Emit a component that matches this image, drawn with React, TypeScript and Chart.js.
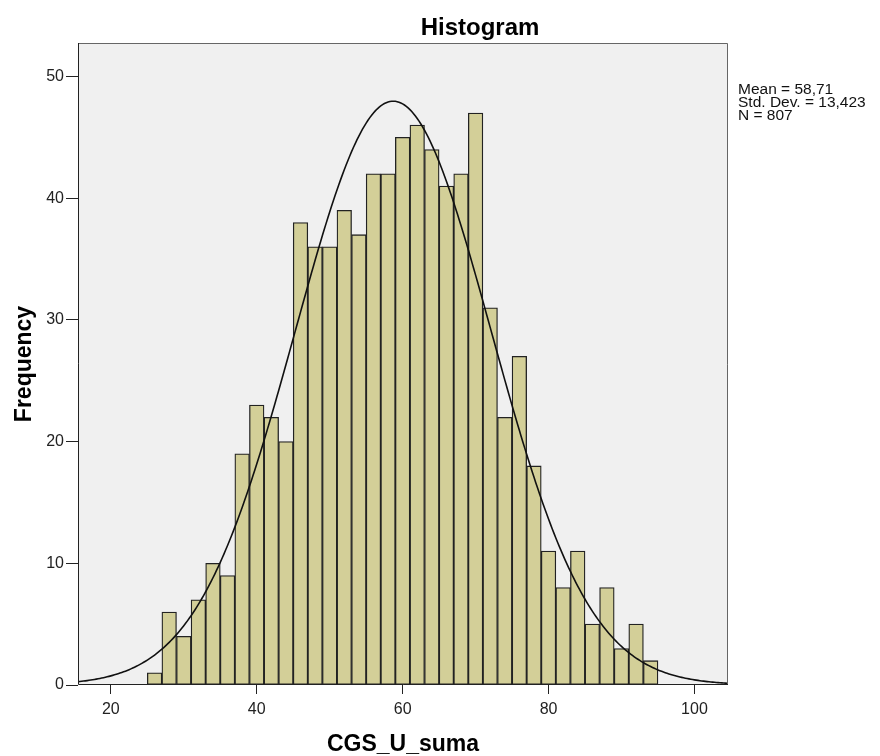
import React, { useEffect, useRef } from "react";
import { Chart, registerables } from "chart.js";

Chart.register(...registerables);

// Histogram bins (bin width 2, centres)
const binCenters = [26, 28, 30, 32, 34, 36, 38, 40, 42, 44, 46, 48, 50, 52, 54, 56, 58, 60, 62, 64, 66, 68, 70, 72, 74, 76, 78, 80, 82, 84, 86, 88, 90, 92, 94];
const frequencies = [1, 6, 4, 7, 10, 9, 19, 23, 22, 20, 38, 36, 36, 39, 37, 42, 42, 45, 46, 44, 41, 42, 47, 31, 22, 27, 18, 11, 8, 11, 5, 8, 3, 5, 2];
const xTicks = [20, 40, 60, 80, 100];
const yTicks = [0, 10, 20, 30, 40, 50];
const statsLines = ["Mean = 58,71", "Std. Dev. = 13,423", "N = 807"];
const MEAN = 58.71;
const SD = 13.423;
const N = 807;
const BIN_WIDTH = 2;
const X_MIN = 15.5;
const X_MAX = 104.6;
const Y_MAX = 52.75;

const FONT = "'Liberation Sans', Arial, sans-serif";

function normalCurve() {
  const pts: { x: number; y: number }[] = [];
  const k = (N * BIN_WIDTH) / (SD * Math.sqrt(2 * Math.PI));
  for (let x = X_MIN; x <= X_MAX + 0.001; x += 0.25) {
    const z = (x - MEAN) / SD;
    pts.push({ x, y: k * Math.exp(-0.5 * z * z) });
  }
  return pts;
}

const decorPlugin = {
  id: "decor",
  beforeDraw(chart: any) {
    const { ctx, chartArea: a } = chart;
    ctx.save();
    ctx.fillStyle = "#ffffff";
    ctx.fillRect(0, 0, chart.width, chart.height);
    ctx.fillStyle = "#f0f0f0";
    ctx.fillRect(a.left, a.top, a.right - a.left, a.bottom - a.top);
    ctx.restore();
  },
  afterDatasetsDraw(chart: any) {
    const { ctx, chartArea: a } = chart;
    ctx.save();
    ctx.lineWidth = 1;
    ctx.strokeStyle = "#666666";
    ctx.beginPath();
    ctx.moveTo(a.left + 0.5, a.top + 0.5);
    ctx.lineTo(a.right - 0.5, a.top + 0.5);
    ctx.lineTo(a.right - 0.5, a.bottom);
    ctx.stroke();
    ctx.strokeStyle = "#222222";
    ctx.beginPath();
    ctx.moveTo(a.left + 0.5, a.top);
    ctx.lineTo(a.left + 0.5, a.bottom - 0.5);
    ctx.lineTo(a.right, a.bottom - 0.5);
    ctx.stroke();
    ctx.restore();
  },
  afterDraw(chart: any) {
    const { ctx, chartArea: a } = chart;
    ctx.save();
    ctx.fillStyle = "#000000";
    ctx.textBaseline = "alphabetic";
    // title
    ctx.font = `bold 24px ${FONT}`;
    ctx.textAlign = "center";
    ctx.fillText("Histogram", 480, 35);
    // x axis title
    ctx.font = `bold 23px ${FONT}`;
    ctx.fillText("CGS_U_suma", (a.left + a.right) / 2, 751);
    // y axis title
    ctx.save();
    ctx.translate(31, (a.top + a.bottom) / 2);
    ctx.rotate(-Math.PI / 2);
    ctx.fillText("Frequency", 0, 0);
    ctx.restore();
    // stats
    ctx.font = `15.5px ${FONT}`;
    ctx.textAlign = "left";
    ctx.fillStyle = "#111111";
    statsLines.forEach((s, i) => ctx.fillText(s, 738, 94 + i * 12.8));
    ctx.restore();
  },
};

export default function App() {
  const ref = useRef<HTMLCanvasElement>(null);
  useEffect(() => {
    document.body.style.margin = "0";
    const canvas = ref.current!;
    const chart = new Chart(canvas, {
      type: "bar",
      data: {
        datasets: [
          {
            type: "line" as const,
            data: normalCurve(),
            borderColor: "#111111",
            borderWidth: 1.6,
            pointRadius: 0,
            tension: 0,
            fill: false,
            order: 0,
          } as any,
          {
            type: "bar" as const,
            data: binCenters.map((x, i) => ({ x, y: frequencies[i] })),
            backgroundColor: "#d3cf98",
            borderColor: "#222222",
            borderWidth: 1.3,
            borderSkipped: false,
            barPercentage: 1,
            categoryPercentage: 1,
            order: 1,
          } as any,
        ],
      },
      options: {
        responsive: false,
        animation: false,
        events: [],
        layout: { padding: { left: 0, right: 152, top: 43, bottom: 0 } },
        plugins: { legend: { display: false }, tooltip: { enabled: false }, title: { display: false } },
        scales: {
          x: {
            type: "linear",
            offset: false,
            min: X_MIN,
            max: X_MAX,
            afterBuildTicks: (s: any) => {
              s.ticks = xTicks.map((v) => ({ value: v }));
            },
            afterFit: (s: any) => {
              s.height = 71;
            },
            grid: { display: true, offset: false, drawOnChartArea: false, drawTicks: true, tickLength: 9, tickColor: "#222", color: "#222" },
            border: { display: false },
            ticks: { color: "#222", font: { family: FONT, size: 16 }, padding: 6, maxRotation: 0, autoSkip: false },
          },
          y: {
            type: "linear",
            min: 0,
            max: Y_MAX,
            afterBuildTicks: (s: any) => {
              s.ticks = yTicks.map((v) => ({ value: v }));
            },
            afterFit: (s: any) => {
              s.width = 78;
            },
            grid: { display: true, drawOnChartArea: false, drawTicks: true, tickLength: 12, tickColor: "#222", color: "#222" },
            border: { display: false },
            ticks: { color: "#222", font: { family: FONT, size: 16 }, padding: 2, autoSkip: false },
          },
        },
      },
      plugins: [decorPlugin],
    });
    return () => chart.destroy();
  }, []);
  return (
    <div style={{ width: 880, height: 756 }}>
      <canvas ref={ref} width={880} height={756} style={{ display: "block", width: 880, height: 756 }} />
    </div>
  );
}
